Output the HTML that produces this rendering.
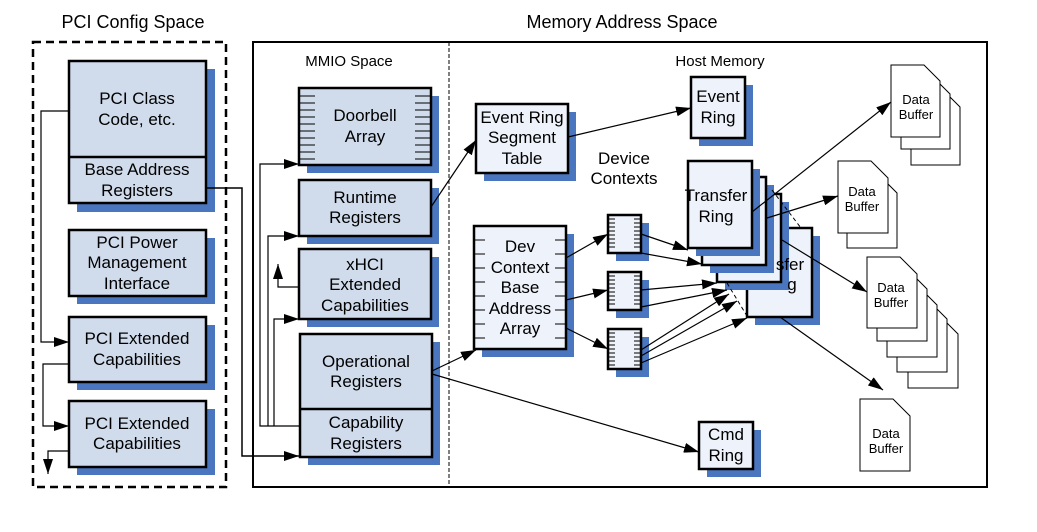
<!DOCTYPE html>
<html><head><meta charset="utf-8"><style>
html,body{margin:0;padding:0;background:#fff;}
svg{display:block;font-family:"Liberation Sans",Arial,sans-serif;}
</style></head><body>
<svg width="1037" height="532" viewBox="0 0 1037 532" xmlns="http://www.w3.org/2000/svg">
<defs>
<marker id="a" viewBox="0 0 15 10" refX="15" refY="5" markerWidth="15" markerHeight="10" markerUnits="userSpaceOnUse" orient="auto"><path d="M0,0 L15,5 L0,10 z" fill="#000"/></marker>
</defs>
<g font-size="18" text-anchor="middle" fill="#000">
<text x="133" y="28">PCI Config Space</text>
<text x="622" y="28">Memory Address Space</text>
</g>
<rect x="33" y="42" width="193" height="445" fill="none" stroke="#000" stroke-width="2.5" stroke-dasharray="8,5"/>
<rect x="253" y="42" width="734" height="445" fill="none" stroke="#000" stroke-width="2"/>
<line x1="449" y1="42" x2="449" y2="487" stroke="#000" stroke-width="1" stroke-dasharray="4,2"/>
<g font-size="15" text-anchor="middle">
<text x="349" y="66">MMIO Space</text>
<text x="720" y="66">Host Memory</text>
</g>
<g fill="#4a76c0">
<rect x="77" y="69" width="138" height="143"/>
<rect x="77" y="238" width="138" height="66"/>
<rect x="77" y="325" width="138" height="65"/>
<rect x="77" y="409" width="138" height="66"/>
<rect x="307" y="96" width="132" height="77"/>
<rect x="307" y="188" width="132" height="56"/>
<rect x="307" y="257" width="132" height="70"/>
<rect x="308" y="342" width="132" height="123"/>
<rect x="484" y="112" width="92" height="69"/>
<rect x="699" y="85" width="54" height="61"/>
<rect x="482" y="234" width="92" height="123"/>
<rect x="616" y="223" width="33" height="38"/>
<rect x="616" y="280" width="33" height="38"/>
<rect x="616" y="337" width="33" height="40"/>
<rect x="707" y="430" width="54" height="47"/>
</g>
<g fill="#d0dcec" stroke="#000" stroke-width="2.5">
<rect x="69" y="61" width="137" height="142"/>
<rect x="69" y="230" width="137" height="66"/>
<rect x="69" y="317" width="137" height="65"/>
<rect x="69" y="401" width="137" height="66"/>
<rect x="299" y="88" width="132" height="77"/>
<rect x="299" y="180" width="132" height="56"/>
<rect x="299" y="249" width="132" height="70"/>
<rect x="300" y="334" width="132" height="123"/>
</g>
<line x1="69" y1="157" x2="206" y2="157" stroke="#000" stroke-width="2.5"/>
<line x1="300" y1="409" x2="432" y2="409" stroke="#000" stroke-width="2.5"/>
<g stroke="#000" stroke-width="1">
<path d="M300,96h15M300,103h15M300,110h15M300,117h15M300,124h15M300,131h15M300,138h15M300,145h15M300,152h15M300,159h15"/>
<path d="M415,96h15M415,103h15M415,110h15M415,117h15M415,124h15M415,131h15M415,138h15M415,145h15M415,152h15M415,159h15"/>
</g>
<g font-size="17" text-anchor="middle">
<text x="137" y="104">PCI Class</text><text x="137" y="125">Code, etc.</text>
<text x="137" y="175">Base Address</text><text x="137" y="196">Registers</text>
<text x="137" y="248">PCI Power</text><text x="137" y="268">Management</text><text x="137" y="289">Interface</text>
<text x="137" y="344">PCI Extended</text><text x="137" y="365">Capabilities</text>
<text x="137" y="429">PCI Extended</text><text x="137" y="449">Capabilities</text>
<text x="365" y="121">Doorbell</text><text x="365" y="142">Array</text>
<text x="365" y="203">Runtime</text><text x="365" y="223">Registers</text>
<text x="365" y="270">xHCI</text><text x="365" y="290">Extended</text><text x="365" y="311">Capabilities</text>
<text x="366" y="367">Operational</text><text x="366" y="387">Registers</text>
<text x="366" y="428">Capability</text><text x="366" y="449">Registers</text>
</g>
<rect x="755" y="236" width="65" height="89" fill="#4a76c0"/>
<rect x="747" y="228" width="65" height="89" fill="#eef2fa" stroke="#000" stroke-width="2.5"/>
<rect x="725" y="202" width="64" height="88" fill="#4a76c0"/>
<rect x="717" y="194" width="64" height="88" fill="#eef2fa" stroke="#000" stroke-width="2.5"/>
<rect x="710" y="185" width="64" height="88" fill="#4a76c0"/>
<rect x="702" y="177" width="64" height="88" fill="#eef2fa" stroke="#000" stroke-width="2.5"/>
<rect x="696" y="169" width="64" height="87" fill="#4a76c0"/>
<rect x="688" y="161" width="64" height="87" fill="#eef2fa" stroke="#000" stroke-width="2.5"/>
<g font-size="17" text-anchor="middle">
<text x="716" y="201">Transfer</text><text x="716" y="222">Ring</text>
<text x="790" y="270">sfer</text><text x="792" y="290">g</text>
</g>
<g fill="#eef2fa" stroke="#000" stroke-width="2.5">
<rect x="476" y="104" width="92" height="69"/>
<rect x="691" y="77" width="54" height="61"/>
<rect x="474" y="226" width="92" height="123"/>
<rect x="608" y="215" width="33" height="38"/>
<rect x="608" y="272" width="33" height="38"/>
<rect x="608" y="329" width="33" height="40"/>
<rect x="699" y="422" width="54" height="47"/>
</g>
<g stroke="#000" stroke-width="1">
<path d="M475,240h10M475,254h10M475,268h10M475,282h10M475,296h10M475,310h10M475,324h10M475,338h10"/>
<path d="M555,240h10M555,254h10M555,268h10M555,282h10M555,296h10M555,310h10M555,324h10M555,338h10"/>
<path d="M609,219h6M609,223h6M609,227h6M609,231h6M609,235h6M609,239h6M609,243h6M609,247h6M634,219h6M634,223h6M634,227h6M634,231h6M634,235h6M634,239h6M634,243h6M634,247h6"/>
<path d="M609,276h6M609,280h6M609,284h6M609,288h6M609,292h6M609,296h6M609,300h6M609,304h6M634,276h6M634,280h6M634,284h6M634,288h6M634,292h6M634,296h6M634,300h6M634,304h6"/>
<path d="M609,333h6M609,337h6M609,341h6M609,345h6M609,349h6M609,353h6M609,357h6M609,361h6M609,365h6M634,333h6M634,337h6M634,341h6M634,345h6M634,349h6M634,353h6M634,357h6M634,361h6M634,365h6"/>
</g>
<g font-size="17" text-anchor="middle">
<text x="522" y="123">Event Ring</text><text x="522" y="143">Segment</text><text x="522" y="164">Table</text>
<text x="718" y="102">Event</text><text x="718" y="123">Ring</text>
<text x="624" y="164">Device</text><text x="624" y="184">Contexts</text>
<text x="520" y="252">Dev</text><text x="520" y="273">Context</text><text x="520" y="293">Base</text><text x="520" y="314">Address</text><text x="520" y="334">Array</text>
<text x="726" y="440">Cmd</text><text x="726" y="461">Ring</text>
</g>
<g fill="#fff" stroke="#000" stroke-width="1">
<path d="M911,91h33l16,16v58h-49z"/>
<path d="M901,78h33l16,16v55h-49z"/>
<path d="M891,65h33l16,16v56h-49z"/>
<path d="M847,176h33l17,17v55h-50z"/>
<path d="M838,161h33l17,17v55h-50z"/>
<path d="M908,317h33l17,17v54h-50z"/>
<path d="M897,302h33l17,17v53h-50z"/>
<path d="M887,288h33l17,17v52h-50z"/>
<path d="M877,272h33l17,17v52h-50z"/>
<path d="M867,257h33l17,17v54h-50z"/>
<path d="M860,399h33l17,17v55h-50z"/>
</g>
<g font-size="13" text-anchor="middle">
<text x="916" y="104">Data</text><text x="916" y="119">Buffer</text>
<text x="862" y="196">Data</text><text x="862" y="211">Buffer</text>
<text x="891" y="292">Data</text><text x="891" y="307">Buffer</text>
<text x="886" y="438">Data</text><text x="886" y="453">Buffer</text>
</g>
<g fill="none" stroke="#000" stroke-width="1.5">
<path d="M206,188H242V456H299" marker-end="url(#a)"/>
<path d="M69,111H41V342H69" stroke-width="1.2" marker-end="url(#a)"/>
<path d="M69,364H43V426H69" stroke-width="1.2" marker-end="url(#a)"/>
<path d="M69,451H48V474" stroke-width="1.2" marker-end="url(#a)"/>
<path d="M300,426H260V164H299" stroke-width="1.2" marker-end="url(#a)"/>
<path d="M268,426V236H299" stroke-width="1.2" marker-end="url(#a)"/>
<path d="M274,426V319H299" stroke-width="1.2" marker-end="url(#a)"/>
<path d="M299,287H278V264" stroke-width="1.2" marker-end="url(#a)"/>
</g>
<g fill="none" stroke="#000" stroke-width="1.2" marker-end="url(#a)">
<path d="M431,207L476,140"/>
<path d="M432,371L476,350"/>
<path d="M432,374L699,452"/>
<path d="M568,137L691,108"/>
<path d="M566,258L608,234"/>
<path d="M566,300L608,290"/>
<path d="M566,328L608,349"/>
<path d="M641,234L688,250"/>
<path d="M641,253L702,264"/>
<path d="M641,290L717,283"/>
<path d="M641,307L727,290"/>
<path d="M641,350L729,294"/>
<path d="M641,356L737,301"/>
<path d="M641,363L747,318"/>
<path d="M752,212L891,102"/>
<path d="M767,218L838,196"/>
<path d="M782,240L867,292"/>
<path d="M780,317L883,390"/>
</g>
<g stroke="#000" stroke-width="1" stroke-dasharray="4,3">
<path d="M772,190L801,228"/>
<path d="M727,283L747,316"/>
</g>
</svg>
</body></html>
